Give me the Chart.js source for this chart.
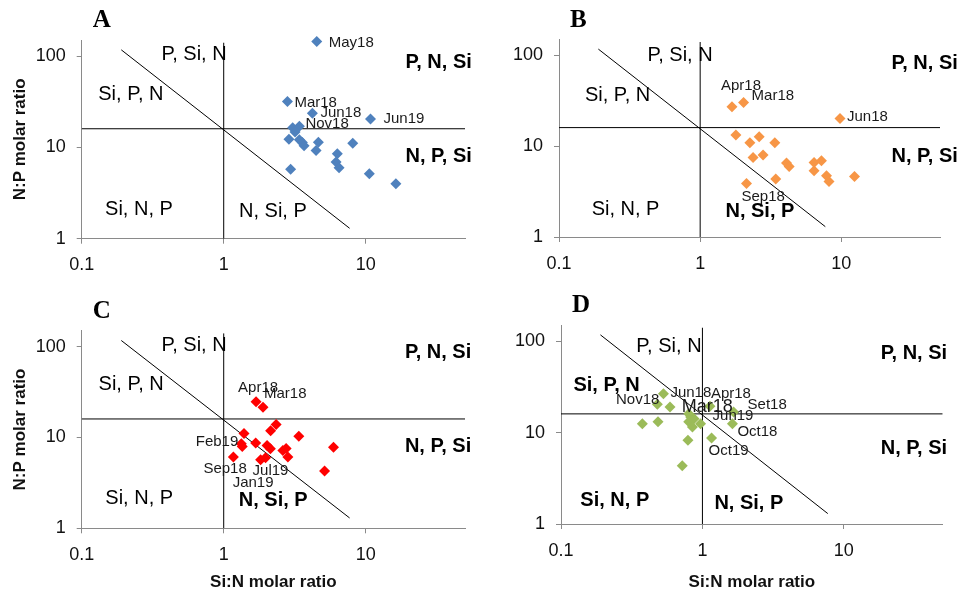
<!DOCTYPE html>
<html><head><meta charset="utf-8">
<script src="https://cdn.jsdelivr.net/npm/chart.js@4.4.1/dist/chart.umd.min.js"></script>
<style>
html,body{margin:0;padding:0;background:#fff;width:965px;height:593px;overflow:hidden}
.p{position:absolute}
canvas{display:block}
</style></head><body>
<div class="p" style="left:0;top:0;width:480px;height:290px"><canvas id="cA" width="480" height="290"></canvas></div>
<div class="p" style="left:480px;top:0;width:485px;height:290px"><canvas id="cB" width="485" height="290"></canvas></div>
<div class="p" style="left:0;top:290px;width:480px;height:303px"><canvas id="cC" width="480" height="303"></canvas></div>
<div class="p" style="left:480px;top:290px;width:485px;height:303px"><canvas id="cD" width="485" height="303"></canvas></div>
<script>
// ---- axis ticks ----
const xTicks = [0.1, 1, 10];
const yTicks = [1, 10, 100];

// ---- reference lines (N:P = 16, Si:N = 1, diagonal) ----
const hLineX = [0.1, 50];  const hLineY = [16, 16];
const vLineX = [1, 1];     const vLineY = [1, 140];
const dLineX = [0.19, 7.7]; const dLineY = [117, 1.3];

// ---- Panel A ----
const siN_A = [4.52, 2.81, 4.21, 10.8, 3.06, 3.41, 3.18, 2.88, 3.41, 3.58, 3.68, 4.64, 4.47, 8.10, 6.31, 6.18, 6.49, 2.96, 10.6, 16.3];
const np_A  = [144, 31.8, 23.7, 20.4, 16.4, 17.0, 14.7, 12.3, 12.1, 11.3, 10.4, 11.4, 9.27, 11.1, 8.53, 6.9, 6.0, 5.75, 5.16, 4.01];
const names_A = ['May18','Mar18','Jun18','Jun19','','Nov18','','','','','','','','','','','','','',''];

// ---- Panel B ----
const siN_B = [1.68, 2.03, 9.79, 1.79, 2.25, 2.62, 3.38, 2.37, 2.79, 4.09, 4.27, 6.41, 7.23, 6.41, 7.85, 8.18, 12.4, 3.43, 2.13];
const np_B  = [27.2, 30.3, 20.1, 13.3, 10.9, 12.7, 10.9, 7.5, 7.97, 6.52, 5.98, 6.61, 6.9, 5.36, 4.73, 4.09, 4.62, 4.35, 3.89];
const names_B = ['Apr18','Mar18','Jun18','','','','','','','','','','','','','','','','Sep18'];

// ---- Panel C ----
const siN_C = [1.69, 1.89, 2.34, 2.14, 1.39, 3.38, 1.68, 1.33, 1.35, 2.02, 2.13, 5.93, 2.61, 2.75, 2.83, 1.17, 1.82, 1.97, 5.13];
const np_C  = [24.8, 21.5, 13.9, 11.9, 11.1, 10.3, 8.67, 8.53, 7.97, 8.17, 7.51, 7.83, 7.21, 7.57, 6.08, 6.08, 5.7, 6.0, 4.28];
const names_C = ['Apr18','Mar18','','','','','','Feb19','','','','','','','','Sep18','Jan19','Jul19',''];

// ---- Panel D ----
const siN_D = [0.53, 0.48, 0.59, 0.376, 0.485, 0.80, 0.826, 0.873, 0.80, 0.85, 0.97, 1.13, 0.79, 1.16, 0.72, 1.66, 1.63];
const np_D  = [26.6, 20.4, 19.0, 12.5, 13.1, 16.1, 14.8, 14.2, 13.1, 11.5, 12.5, 19.4, 8.24, 8.73, 4.33, 16.8, 12.5];
const names_D = ['Jun18','Nov18','','','','Mar18','','','','','Jun19','Apr18','','Oct19','','Set18','Oct18'];

const FONT = '"Liberation Sans", Arial, sans-serif';

const textPlugin = {
  id: 'texts',
  afterDraw(chart, args, o) {
    const ctx = chart.ctx, xs = chart.scales.x, ys = chart.scales.y, ca = chart.chartArea;
    ctx.save();
    ctx.fillStyle = '#000';
    ctx.textBaseline = 'middle';
    ctx.textAlign = 'left';
    ctx.font = 'bold 25px "Liberation Serif", "Times New Roman", serif';
    ctx.fillText(o.letter, ca.left + o.letterDx, ca.top - 19);
    o.regions.forEach(r => {
      ctx.font = (r.b ? 'bold ' : '') + '20px ' + FONT;
      ctx.textAlign = 'center';
      ctx.fillText(r.t, xs.getPixelForValue(r.x), ys.getPixelForValue(r.y));
    });
    const meta = chart.getDatasetMeta(0);
    ctx.fillStyle = '#1a1a1a';
    o.names.forEach((n, i) => {
      if (!n) return;
      const of = o.offsets[n] || {dx: 7, dy: 0};
      const el = meta.data[i];
      ctx.textAlign = of.al || 'left';
      ctx.font = (of.fs || 15) + 'px ' + FONT;
      ctx.fillText(n, el.x + of.dx, el.y + of.dy);
    });
    ctx.restore();
  }
};

function lineDs(xa, ya) {
  return {data: xa.map((v, i) => ({x: v, y: ya[i]})), showLine: true, pointRadius: 0,
          pointHoverRadius: 0, borderColor: '#000', borderWidth: 1, fill: false};
}

function makeChart(id, c) {
  new Chart(document.getElementById(id), {
    type: 'scatter',
    data: {datasets: [
      {data: c.x.map((v, i) => ({x: v, y: c.y[i]})), pointStyle: 'rectRot', pointRadius: 5.5,
       pointHoverRadius: 5.5, backgroundColor: c.color, borderColor: c.color, borderWidth: 0, clip: false},
      lineDs(hLineX, hLineY), lineDs(vLineX, vLineY), lineDs(dLineX, dLineY)
    ]},
    options: {
      responsive: false, animation: false, devicePixelRatio: 1,
      events: [],
      layout: {padding: {left: 0, right: c.padR, top: c.padT, bottom: 0}},
      plugins: {legend: {display: false}, tooltip: {enabled: false},
        texts: {letter: c.letter, letterDx: 11, regions: c.regions, names: c.names, offsets: c.offsets}},
      scales: {
        x: {type: 'logarithmic', min: 0.1, max: 50,
            afterBuildTicks: s => { s.ticks = xTicks.map(v => ({value: v})); },
            ticks: {callback: v => String(v), font: {size: 18, family: FONT}, color: '#111', padding: 11, maxRotation: 0, autoSkip: false},
            grid: {drawOnChartArea: false, drawTicks: true, tickLength: 5, color: '#8a8a8a'},
            border: {color: '#8a8a8a', width: 1},
            title: {display: c.xTitle, text: 'Si:N molar ratio', font: {size: 17, weight: 'bold', family: FONT}, color: '#111', padding: {top: 0, bottom: 0}},
            afterFit: s => { s.height = c.xH; }},
        y: {type: 'logarithmic', min: 1, max: 150,
            afterBuildTicks: s => { s.ticks = yTicks.map(v => ({value: v})); },
            ticks: {callback: v => String(v), font: {size: 18, family: FONT}, color: '#111', padding: 11, autoSkip: false},
            grid: {drawOnChartArea: false, drawTicks: true, tickLength: 5, color: '#8a8a8a'},
            border: {color: '#8a8a8a', width: 1},
            title: {display: c.yTitle, text: 'N:P molar ratio', font: {size: 17, weight: 'bold', family: FONT}, color: '#111', padding: {top: 10, bottom: 0}},
            afterFit: s => { s.width = c.yW; }}
      }
    },
    plugins: [textPlugin]
  });
}

makeChart('cA', {
  x: siN_A, y: np_A, names: names_A, color: '#4F81BD', letter: 'A',
  padR: 15, padT: 40, xH: 51.3, yW: 81.7, xTitle: false, yTitle: true,
  regions: [{t:'P, Si, N', x:0.618, y:104}, {t:'Si, P, N', x:0.222, y:37.9}, {t:'P, N, Si', x:32.6, y:85, b:1},
            {t:'N, P, Si', x:32.6, y:7.98, b:1}, {t:'Si, N, P', x:0.253, y:2.08}, {t:'N, Si, P', x:2.22, y:2.01}],
  offsets: {May18:{dx:12,dy:1}, Mar18:{dx:7,dy:1}, Jun18:{dx:8,dy:0}, Jun19:{dx:13,dy:0}, Nov18:{dx:6,dy:-2}}
});

makeChart('cB', {
  x: siN_B, y: np_B, names: names_B, color: '#F79646', letter: 'B',
  padR: 25, padT: 39.3, xH: 53, yW: 79, xTitle: false, yTitle: false,
  regions: [{t:'P, Si, N', x:0.72, y:100}, {t:'Si, P, N', x:0.26, y:36.5}, {t:'P, N, Si', x:38.9, y:81.7, b:1},
            {t:'N, P, Si', x:38.9, y:7.64, b:1}, {t:'Si, N, P', x:0.296, y:1.99}, {t:'N, Si, P', x:2.65, y:1.92, b:1}],
  offsets: {Apr18:{dx:-11,dy:-21}, Mar18:{dx:8,dy:-7}, Jun18:{dx:7,dy:-2}, Sep18:{dx:-5,dy:13}}
});

makeChart('cC', {
  x: siN_C, y: np_C, names: names_C, color: '#FF0000', letter: 'C',
  padR: 15, padT: 40.7, xH: 64.7, yW: 81.7, xTitle: true, yTitle: true,
  regions: [{t:'P, Si, N', x:0.618, y:104}, {t:'Si, P, N', x:0.223, y:38.7}, {t:'P, N, Si', x:32.3, y:85.3, b:1},
            {t:'N, P, Si', x:32.3, y:7.96, b:1}, {t:'Si, N, P', x:0.254, y:2.13}, {t:'N, Si, P', x:2.23, y:2.0, b:1}],
  offsets: {Apr18:{dx:-18,dy:-14}, Mar18:{dx:1,dy:-13}, Feb19:{dx:-3,dy:-2,al:'right'}, Sep18:{dx:-30,dy:12},
            Jul19:{dx:-13,dy:13}, Jan19:{dx:-28,dy:23}}
});

makeChart('cD', {
  x: siN_D, y: np_D, names: names_D, color: '#9BBB59', letter: 'D',
  padR: 22.3, padT: 35, xH: 69, yW: 81, xTitle: true, yTitle: false,
  regions: [{t:'P, Si, N', x:0.58, y:87.3}, {t:'Si, P, N', x:0.21, y:32.8, b:1}, {t:'P, N, Si', x:31.3, y:72.8, b:1},
            {t:'N, P, Si', x:31.3, y:6.7, b:1}, {t:'Si, N, P', x:0.24, y:1.79, b:1}, {t:'N, Si, P', x:2.13, y:1.68, b:1}],
  offsets: {Jun18:{dx:7,dy:-1}, Nov18:{dx:2,dy:-4,al:'right'}, Apr18:{dx:1,dy:-12}, Mar18:{dx:-7,dy:-7,fs:18},
            Set18:{dx:14,dy:-7}, Jun19:{dx:12,dy:-8}, Oct18:{dx:5,dy:8}, Oct19:{dx:-3,dy:13}}
});
</script>
</body></html>
